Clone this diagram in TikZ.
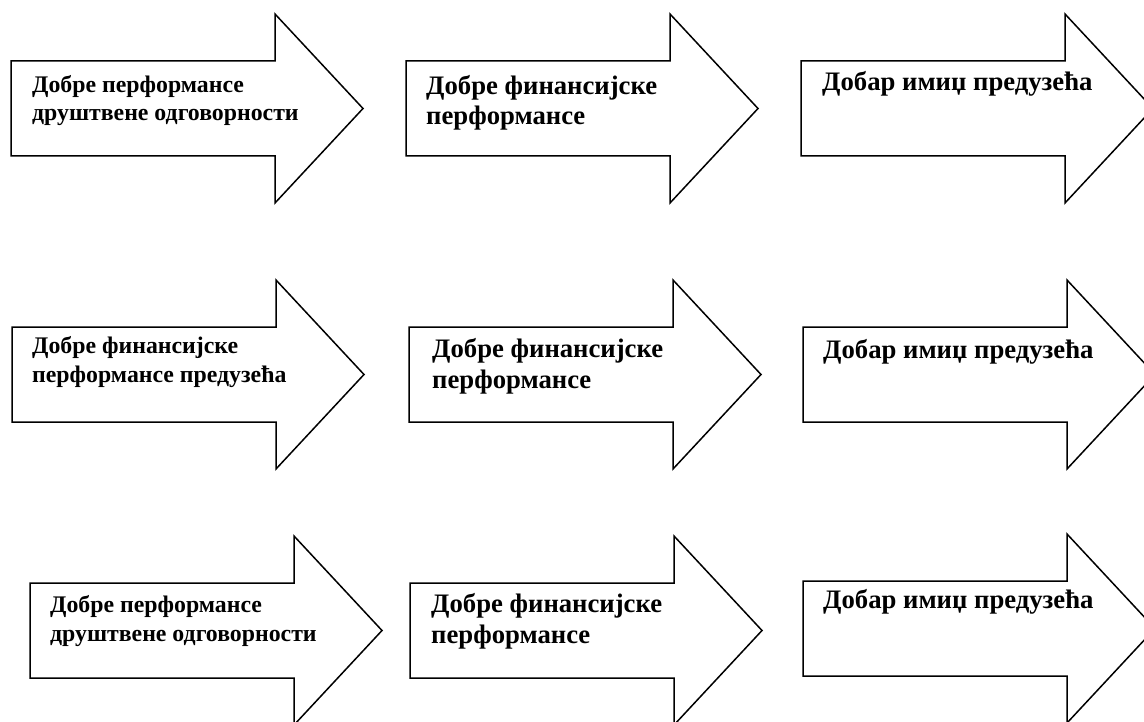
\documentclass[tikz,border=0pt]{standalone}
\usepackage{fontspec}
\setmainfont{Liberation Serif}
\usepackage{tikz}

\begin{document}
\begin{tikzpicture}[
    x=1pt, y=-1pt,
    block/.style={draw, line width=1.5pt, line join=miter, fill=white},
    cause/.style={anchor=base west, inner sep=0pt, align=left,
      font=\fontsize{23.8}{28.5}\selectfont\bfseries},
    effect/.style={anchor=base west, inner sep=0pt, align=left,
      font=\fontsize{26.7}{30.5}\selectfont\bfseries},
  ]
  \useasboundingbox (0,0) rectangle (1144,722);
  \clip (0,0) rectangle (1144,722);

  % Arrow shapes (top left corner of the shaft)
  \foreach \x/\y in {11/61, 406/61, 801/61,
                     12/327, 409/327, 803/327,
                     30/583, 410/583, 803/581}
    \draw[block] (\x,\y) -- ++(264,0) -- ++(0,-47) -- ++(88,94.5)
      -- ++(-88,94.5) -- ++(0,-47) -- ++(-264,0) -- cycle;

  % Row 1 (base = last line)
  \node[cause] (causeA) at (32,121) {Добре перформансе\\друштвене одговорности};
  \node[effect] (finA) at (426,125) {Добре финансијске\\перформансе};
  \node[effect] (imageA) at (822,91) {Добар имиџ предузећа};

  % Row 2
  \node[cause] (causeB) at (32,382) {Добре финансијске\\перформансе предузећа};
  \node[effect] (finB) at (432,388) {Добре финансијске\\перформансе};
  \node[effect] (imageB) at (823,358) {Добар имиџ предузећа};

  % Row 3
  \node[cause] (causeC) at (50,641) {Добре перформансе\\друштвене одговорности};
  \node[effect] (finC) at (431,643) {Добре финансијске\\перформансе};
  \node[effect] (imageC) at (823,608) {Добар имиџ предузећа};
\end{tikzpicture}
\end{document}
